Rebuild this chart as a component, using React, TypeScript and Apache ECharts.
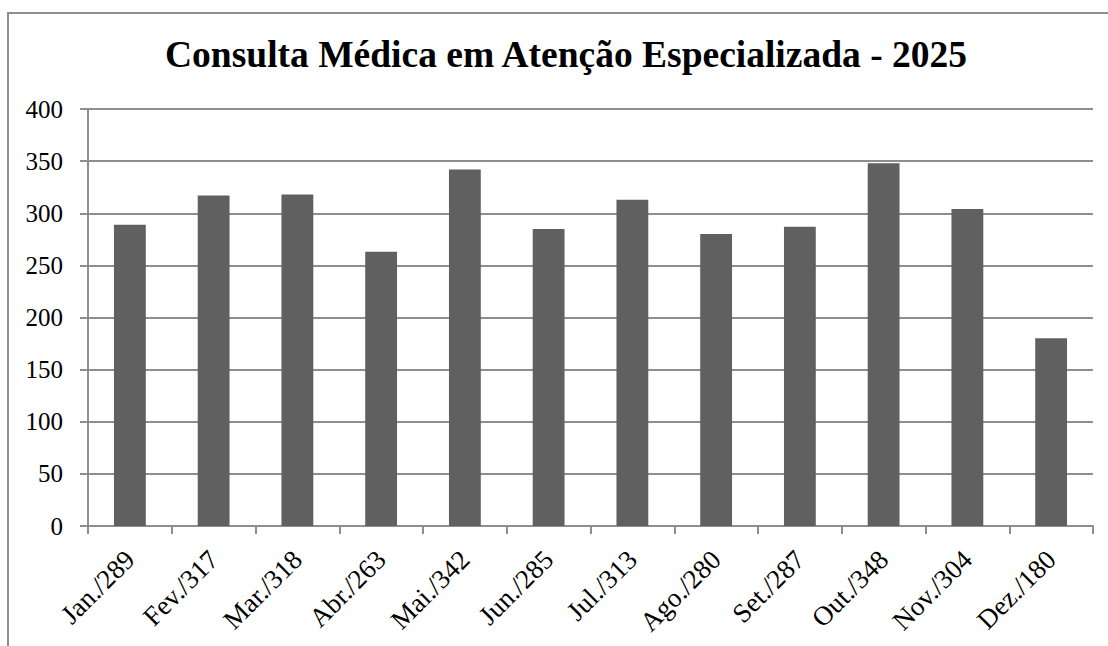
import React, { useEffect, useRef } from "react";
import * as echarts from "echarts";

const TITLE = "Consulta Médica em Atenção Especializada - 2025";
const categories = [
  "Jan./289", "Fev./317", "Mar./318", "Abr./263", "Mai./342", "Jun./285",
  "Jul./313", "Ago./280", "Set./287", "Out./348", "Nov./304", "Dez./180",
];
const values = [289, 317, 318, 263, 342, 285, 313, 280, 287, 348, 304, 180];
const yMin = 0;
const yMax = 400;
const yInterval = 50;

const FONT = "'Liberation Serif', 'Times New Roman', serif";

export default function App() {
  const ref = useRef<HTMLDivElement>(null);
  useEffect(() => {
    if (!ref.current) return;
    const chart = echarts.init(ref.current, null, { renderer: "svg" });
    chart.setOption({
      animation: false,
      backgroundColor: "#ffffff",
      title: {
        text: TITLE,
        left: 160,
        top: 30,
        textStyle: { fontFamily: FONT, fontWeight: "bold", fontSize: 37.5, color: "#000" },
      },
      graphic: [
        {
          type: "rect",
          shape: { x: 8, y: 13, width: 1300, height: 1000 },
          style: { fill: "none", stroke: "#8e8e8e", lineWidth: 2 },
          silent: true,
        },
      ],
      grid: { left: 88, right: 15, top: 109, bottom: 120, containLabel: false },
      xAxis: {
        type: "category",
        data: categories,
        axisLine: { show: true, lineStyle: { color: "#8e8e8e", width: 2 } },
        axisTick: { show: true, alignWithLabel: false, length: 8, lineStyle: { color: "#8e8e8e", width: 2 } },
        axisLabel: {
          rotate: 45,
          margin: 29,
          fontFamily: FONT,
          fontSize: 27,
          color: "#000",
          interval: 0,
        },
      },
      yAxis: {
        type: "value",
        min: yMin,
        max: yMax,
        interval: yInterval,
        axisLine: { show: true, lineStyle: { color: "#8e8e8e", width: 2 } },
        axisTick: { show: true, inside: false, length: 8, lineStyle: { color: "#8e8e8e", width: 2 } },
        splitLine: { show: true, lineStyle: { color: "#8e8e8e", width: 2 } },
        axisLabel: { margin: 25, fontFamily: FONT, fontSize: 25, color: "#000" },
      },
      series: [
        {
          type: "bar",
          data: values,
          barWidth: "38%",
          itemStyle: { color: "#606060" },
        },
      ],
    });
    return () => chart.dispose();
  }, []);
  return (
    <div
      ref={ref}
      style={{ position: "fixed", left: 0, top: 0, width: 1108, height: 646 }}
    />
  );
}
